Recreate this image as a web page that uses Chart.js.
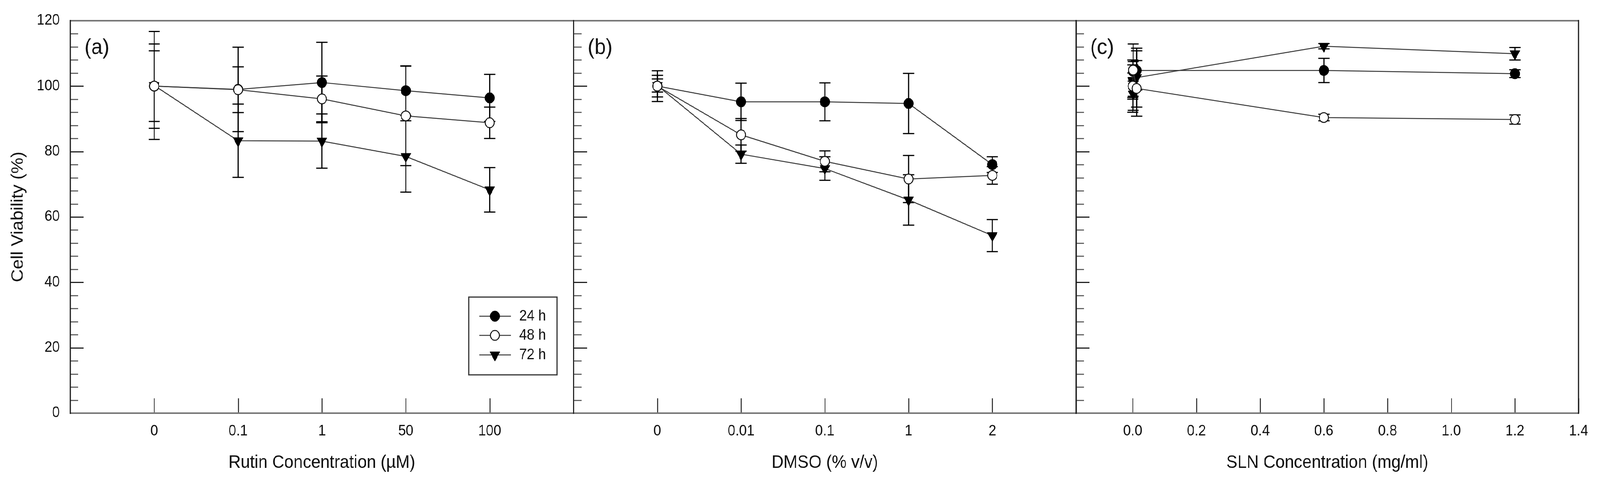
<!DOCTYPE html>
<html><head><meta charset="utf-8">
<script src="https://cdn.jsdelivr.net/npm/chart.js@4.4.1/dist/chart.umd.min.js"></script>
<style>
html,body{margin:0;padding:0;background:#fff;overflow:hidden;}
#wrap{position:absolute;left:0;top:0;width:4413px;height:1228px;overflow:hidden;background:#fff;transform-origin:0 0;}
canvas{position:absolute;top:0;}
</style></head><body>
<div id="wrap">
<canvas id="cA" width="1600" height="1228" style="left:0px;width:1600px;height:1228px"></canvas>
<canvas id="cB" width="1600" height="1228" style="left:1400px;width:1600px;height:1228px"></canvas>
<canvas id="cC" width="1613" height="1228" style="left:2800px;width:1613px;height:1228px"></canvas>
</div>
<script>
// ---------- DATA ----------
const seriesNames = ['24 h', '48 h', '72 h'];

// Panel (a): Rutin
const rutinLabels = ['0', '0.1', '1', '50', '100'];
const rutin24 = [100.0, 99.0, 101.1, 98.6, 96.4];
const rutin48 = [100.0, 98.9, 96.1, 90.9, 88.8];
const rutin72 = [100.2, 83.3, 83.2, 78.5, 68.3];
const rutin24Err = [10.8, 12.9, 12.3, 7.6, 7.2];
const rutin48Err = [12.9, 7.0, 7.0, 15.2, 4.8];
const rutin72Err = [16.5, 11.2, 8.3, 10.9, 6.8];

// Panel (b): DMSO
const dmsoLabels = ['0', '0.01', '0.1', '1', '2'];
const dmso24 = [100.0, 95.2, 95.2, 94.7, 76.0];
const dmso48 = [100.0, 85.1, 77.0, 71.6, 72.7];
const dmso72 = [100.2, 79.2, 74.8, 65.2, 54.3];
const dmso24Err = [3.3, 5.7, 5.8, 9.2, 2.4];
const dmso48Err = [4.7, 5.0, 3.2, 7.2, 2.7];
const dmso72Err = [2.0, 2.8, 3.6, 7.7, 4.9];

// Panel (c): SLN
const slnX = [0, 0.0012, 0.012, 0.6, 1.2];
const slnTicks = [0, 0.2, 0.4, 0.6, 0.8, 1.0, 1.2, 1.4];
const sln24 = [100.0, 104.5, 104.8, 104.8, 103.8];
const sln48 = [100.0, 104.9, 99.3, 90.4, 89.8];
const sln72 = [101.5, 97.6, 102.6, 112.2, 109.9];
const sln24Err = [4.0, 3.0, 6.0, 3.7, 1.2];
const sln48Err = [8.0, 8.0, 8.5, 1.0, 1.4];
const sln72Err = [5.0, 5.0, 9.0, 0.8, 1.9];

const yTicks = [0, 20, 40, 60, 80, 100, 120];

// fit the 4413-wide figure into the actual viewport width
(function () {
  const w = document.getElementById('wrap');
  const sx = Math.min(1, (window.innerWidth || 4413) / 4413);
  w.style.transform = 'scale(' + sx + ', 1)';
})();

// ---------- STYLE ----------
const FONT = "'Liberation Sans', Arial, Helvetica, sans-serif";
const TXT = '#111';
const LINE = '#3a3a3a';

const seriesStyle = [
  {pointStyle: 'circle', rotation: 0, radius: 13.5, backgroundColor: '#000', borderColor: '#000', borderWidth: 1, order: 3},
  {pointStyle: 'circle', rotation: 0, radius: 12.5, backgroundColor: '#fff', borderColor: '#111', borderWidth: 2.5, order: 1},
  {pointStyle: 'triangle', rotation: 180, radius: 16, backgroundColor: '#000', borderColor: '#000', borderWidth: 1, order: 2}
];

function makeDatasets(xs, vals, errs) {
  return vals.map((v, s) => ({
    label: seriesNames[s],
    data: xs.map((x, i) => ({x: x, y: v[i]})),
    errors: errs[s],
    borderColor: LINE,
    borderWidth: 2.5,
    fill: false,
    tension: 0,
    pointStyle: seriesStyle[s].pointStyle,
    pointRotation: seriesStyle[s].rotation,
    pointRadius: seriesStyle[s].radius,
    pointHoverRadius: seriesStyle[s].radius,
    pointBackgroundColor: seriesStyle[s].backgroundColor,
    pointBorderColor: seriesStyle[s].borderColor,
    pointBorderWidth: seriesStyle[s].borderWidth,
    order: seriesStyle[s].order,
    clip: false
  }));
}

function drawMarker(ctx, st, x, y) {
  ctx.save();
  ctx.fillStyle = st.backgroundColor;
  ctx.strokeStyle = st.borderColor;
  ctx.lineWidth = st.borderWidth;
  if (Chart.helpers && Chart.helpers.drawPoint) {
    Chart.helpers.drawPoint(ctx, {pointStyle: st.pointStyle, rotation: st.rotation, radius: st.radius, borderWidth: st.borderWidth}, x, y);
  } else {
    ctx.beginPath();
    if (st.pointStyle === 'circle') {
      ctx.arc(x, y, st.radius, 0, Math.PI * 2);
    } else {
      const r = st.radius;
      ctx.moveTo(x, y + r);
      ctx.lineTo(x - r * Math.sin(Math.PI / 3), y - r / 2);
      ctx.lineTo(x + r * Math.sin(Math.PI / 3), y - r / 2);
      ctx.closePath();
    }
    ctx.fill(); ctx.stroke();
  }
  ctx.restore();
}

function framePlugin(cfg) {
  return {
    id: 'frame_' + cfg.tag,
    beforeDatasetsDraw(chart) {
      const ctx = chart.ctx, a = chart.chartArea;
      const xs = chart.scales.x, ys = chart.scales.y;
      ctx.save();
      // y minor (every 4) and major (every 20) ticks, pointing inward
      for (let v = 4; v < 120; v += 4) {
        const py = Math.round(ys.getPixelForValue(v)) + 0.5;
        const major = yTicks.includes(v);
        ctx.strokeStyle = major ? '#222' : '#666';
        ctx.lineWidth = 3;
        ctx.beginPath();
        ctx.moveTo(a.left, py);
        ctx.lineTo(a.left + (major ? 37 : 22), py);
        ctx.stroke();
      }
      // x ticks pointing inward
      ctx.strokeStyle = '#222';
      ctx.lineWidth = 2.5;
      xs.ticks.forEach(t => {
        const px = Math.round(xs.getPixelForValue(t.value)) + 0.5;
        ctx.beginPath();
        ctx.moveTo(px, a.bottom);
        ctx.lineTo(px, a.bottom - 38);
        ctx.stroke();
      });
      // error bars
      chart.data.datasets.forEach(ds => {
        ctx.strokeStyle = '#000';
        ctx.lineWidth = 3;
        ds.data.forEach((p, j) => {
          const e = ds.errors[j];
          const px = xs.getPixelForValue(p.x);
          const y1 = ys.getPixelForValue(p.y + e), y2 = ys.getPixelForValue(p.y - e);
          ctx.beginPath();
          ctx.moveTo(px, y1); ctx.lineTo(px, y2);
          ctx.moveTo(px - 15.5, y1); ctx.lineTo(px + 15.5, y1);
          ctx.moveTo(px - 15.5, y2); ctx.lineTo(px + 15.5, y2);
          ctx.stroke();
        });
      });
      ctx.restore();
    },
    afterDatasetsDraw(chart) {
      const ctx = chart.ctx, a = chart.chartArea;
      ctx.save();
      ctx.strokeStyle = '#777';
      ctx.lineWidth = 4;
      ctx.beginPath();
      ctx.moveTo(a.left, a.top); ctx.lineTo(a.right, a.top);
      ctx.moveTo(a.left, a.bottom); ctx.lineTo(a.right, a.bottom);
      ctx.stroke();
      ctx.strokeStyle = '#1a1a1a';
      ctx.lineWidth = 3;
      ctx.beginPath();
      ctx.moveTo(a.left, a.top - 2); ctx.lineTo(a.left, a.bottom + 2);
      ctx.moveTo(a.right, a.top - 2); ctx.lineTo(a.right, a.bottom + 2);
      ctx.stroke();
      ctx.fillStyle = TXT;
      ctx.font = '56px ' + FONT;
      ctx.textAlign = 'left';
      ctx.textBaseline = 'middle';
      ctx.fillText(cfg.panel, a.left + 39, a.top + 70);
      if (cfg.legend) {
        const bw = 243, bh = 199;
        const bx = a.right - 46 - bw, by = a.bottom - 98 - bh;
        ctx.fillStyle = '#fff';
        ctx.fillRect(bx, by, bw, bh);
        ctx.strokeStyle = '#333';
        ctx.lineWidth = 3;
        ctx.strokeRect(bx, by, bw, bh);
        const rows = [49, 98, 148];
        chart.data.datasets.forEach((ds, i) => {
          const ry = by + rows[i];
          ctx.strokeStyle = LINE;
          ctx.lineWidth = 2.5;
          ctx.beginPath();
          ctx.moveTo(bx + 29, ry); ctx.lineTo(bx + 116, ry);
          ctx.stroke();
          drawMarker(ctx, seriesStyle[i], bx + 72, ry);
          ctx.fillStyle = TXT;
          ctx.font = '38px ' + FONT;
          ctx.textAlign = 'left';
          ctx.textBaseline = 'middle';
          ctx.fillText(ds.label, bx + 139, ry + 1);
        });
      }
      ctx.restore();
    }
  };
}

function makeChart(id, cfg) {
  const xScale = {
    type: 'linear',
    min: cfg.xmin, max: cfg.xmax,
    afterBuildTicks: s => { s.ticks = cfg.tickValues.map(v => ({value: v})); },
    ticks: {
      callback: cfg.tickLabel,
      autoSkip: false, maxRotation: 0, minRotation: 0,
      padding: 16, color: TXT,
      font: {family: FONT, size: 38}
    },
    grid: {display: false},
    border: {display: false},
    title: {
      display: true, text: cfg.xTitle, color: TXT,
      font: {family: FONT, size: 46},
      padding: {top: 0, bottom: 16}
    },
    afterFit: s => { s.height = 171; }
  };
  const yScale = {
    type: 'linear',
    min: 0, max: 120,
    afterBuildTicks: s => { s.ticks = yTicks.map(v => ({value: v})); },
    ticks: {
      display: cfg.showY, padding: 21, color: TXT,
      font: {family: FONT, size: 38}
    },
    grid: {display: false},
    border: {display: false},
    title: {
      display: cfg.showY, text: 'Cell Viability (%)', color: TXT,
      font: {family: FONT, size: 46},
      padding: {top: 23, bottom: 0}
    },
    afterFit: s => { s.width = cfg.yWidth; }
  };
  return new Chart(document.getElementById(id), {
    type: 'line',
    data: {datasets: makeDatasets(cfg.xs, cfg.vals, cfg.errs)},
    options: {
      responsive: false,
      animation: false,
      devicePixelRatio: 1,
      layout: {padding: {top: 53, right: cfg.padRight, left: 0, bottom: 0}},
      plugins: {legend: {display: false}, tooltip: {enabled: false}, title: {display: false}},
      scales: {x: xScale, y: yScale}
    },
    plugins: [framePlugin(cfg)]
  });
}

const catIdx = rutinLabels.map((_, i) => i);

makeChart('cA', {
  tag: 'a', panel: '(a)', legend: true, showY: true, yWidth: 194, padRight: 18,
  xmin: -1, xmax: 5, tickValues: catIdx,
  tickLabel: v => (rutinLabels[v] !== undefined ? rutinLabels[v] : ''),
  xTitle: 'Rutin Concentration (µM)',
  xs: catIdx,
  vals: [rutin24, rutin48, rutin72],
  errs: [rutin24Err, rutin48Err, rutin72Err]
});

makeChart('cB', {
  tag: 'b', panel: '(b)', legend: false, showY: false, yWidth: 182, padRight: 32,
  xmin: -1, xmax: 5, tickValues: catIdx,
  tickLabel: v => (dmsoLabels[v] !== undefined ? dmsoLabels[v] : ''),
  xTitle: 'DMSO (% v/v)',
  xs: catIdx,
  vals: [dmso24, dmso48, dmso72],
  errs: [dmso24Err, dmso48Err, dmso72Err]
});

makeChart('cC', {
  tag: 'c', panel: '(c)', legend: false, showY: false, yWidth: 168, padRight: 59,
  xmin: -0.178, xmax: 1.4, tickValues: slnTicks,
  tickLabel: v => Number(v).toFixed(1),
  xTitle: 'SLN Concentration (mg/ml)',
  xs: slnX,
  vals: [sln24, sln48, sln72],
  errs: [sln24Err, sln48Err, sln72Err]
});
</script>
</body></html>
